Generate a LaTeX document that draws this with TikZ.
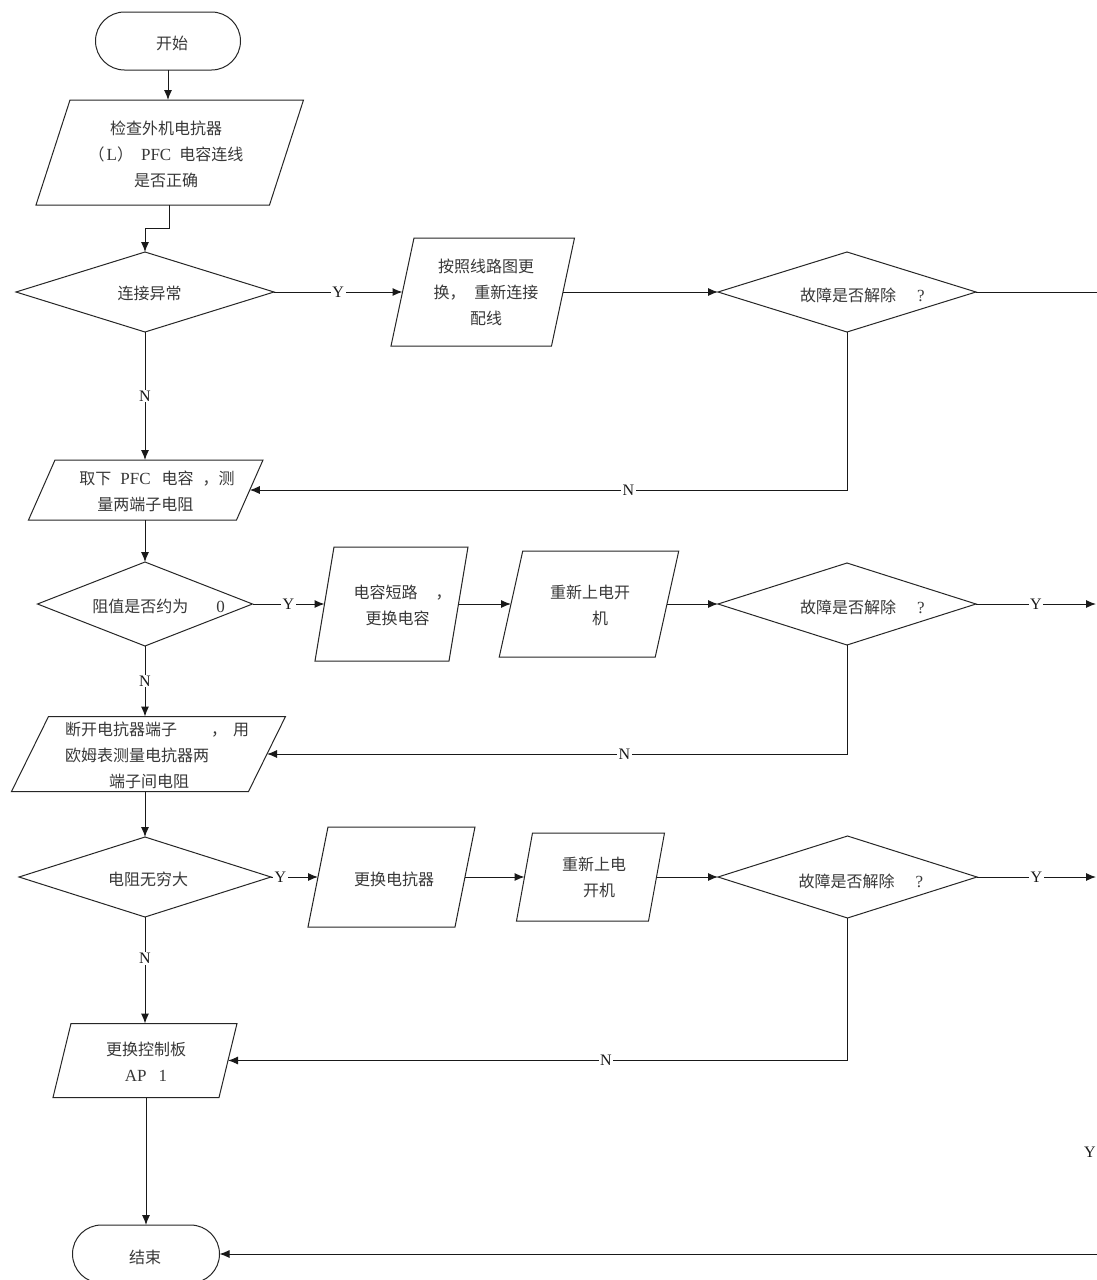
\documentclass[tikz,border=0pt]{standalone}
\usepackage{fontspec}
\setmainfont{Liberation Serif}
\newfontfamily\cjk{Noto Sans CJK SC}
\usetikzlibrary{arrows.meta,calc}
\newcommand\lat[1]{{\rmfamily\fontsize{17}{26}\selectfont #1}}
\newcommand\paradraw[2]{\draw[shapeline] ($(#1.north west)+(#2/2,0)$) -- ($(#1.north east)+(#2/2,0)$) -- ($(#1.south east)+(-#2/2,0)$) -- ($(#1.south west)+(-#2/2,0)$) -- cycle;}
\newcommand\diamdraw[1]{\draw[shapeline] (#1.north) -- (#1.east) -- (#1.south) -- (#1.west) -- cycle;}
\begin{document}
\begin{tikzpicture}[x=1pt,y=-1pt,
  every node/.style={inner sep=0pt, outer sep=0pt},
  box/.style={rectangle, draw=none},
  shapeline/.style={draw=black!85, line width=1pt, line join=miter},
  term/.style={rectangle, draw=black!85, line width=1pt, rounded corners=29pt, minimum height=58pt},
  txt/.style={font=\cjk\fontsize{16}{26}\selectfont, text=black!78, align=center},
  txtl/.style={font=\cjk\fontsize{16}{26}\selectfont, text=black!78, align=left},
  lab/.style={font=\fontsize{16}{16}\selectfont, fill=white, inner xsep=1.5pt, inner ysep=1pt, text=black!90},
  arr/.style={draw=black!90, line width=1pt, -{Latex[length=10pt,width=8pt]}},
  ln/.style={draw=black!90, line width=1pt}
]
\fill[white] (0,0) rectangle (1097,1280);
\useasboundingbox (0,0) rectangle (1097,1280);

% terminators
\node[term, minimum width=145pt] (start) at (168,41) {};
\node[term, minimum width=147pt] (end) at (146,1254) {};
\node[txt] (tstart) at (172,43) {开始};
\node[txt] (tend) at (145,1257) {结束};

% parallelogram geometry nodes
\node[box, minimum width=233.5pt, minimum height=105pt] (p1) at (169.75,152.5) {};
\node[box, minimum width=160.5pt, minimum height=108pt] (p2) at (482.75,292) {};
\node[box, minimum width=208pt, minimum height=60pt] (p3) at (145.75,490) {};
\node[box, minimum width=134pt, minimum height=114pt] (p4) at (391.5,604) {};
\node[box, minimum width=156pt, minimum height=106pt] (p5) at (589,604) {};
\node[box, minimum width=237pt, minimum height=75pt] (p6) at (148.5,754) {};
\node[box, minimum width=147pt, minimum height=100pt] (p7) at (391.5,877) {};
\node[box, minimum width=132pt, minimum height=88pt] (p8) at (590.5,877) {};
\node[box, minimum width=166pt, minimum height=74pt] (p9) at (145,1060.5) {};
\paradraw{p1}{34}
\paradraw{p2}{23}
\paradraw{p3}{26.5}
\paradraw{p4}{19}
\paradraw{p5}{23.5}
\paradraw{p6}{37}
\paradraw{p7}{20}
\paradraw{p8}{16}
\paradraw{p9}{18}

% diamond geometry nodes
\node[box, minimum width=258pt, minimum height=80pt] (d1) at (145,292) {};
\node[box, minimum width=258pt, minimum height=80pt] (d2) at (847,292) {};
\node[box, minimum width=215pt, minimum height=84pt] (d3) at (145,604) {};
\node[box, minimum width=258pt, minimum height=82pt] (d4) at (847,604) {};
\node[box, minimum width=252pt, minimum height=80pt] (d5) at (145,877) {};
\node[box, minimum width=259pt, minimum height=82pt] (d6) at (847.5,877) {};
\diamdraw{d1}
\diamdraw{d2}
\diamdraw{d3}
\diamdraw{d4}
\diamdraw{d5}
\diamdraw{d6}

% texts
\node[txt] (t1) at (166,154) {检查外机电抗器\\（\hspace{2pt}\lat{L}）\hspace{8pt}\lat{PFC}\hspace{8pt}电容连线\\是否正确};
\node[txt] (t2) at (486,292) {按照线路图更\\换，\hspace{9pt}重新连接\\配线};
\node[txtl] (t3) at (157,491.5) {取下\hspace{9pt}\lat{PFC}\hspace{11pt}电容\hspace{9pt}，测\\\hspace*{18pt}量两端子电阻};
\node[txtl] (t4) at (402.5,605) {电容短路\hspace{18pt}，\\\hspace*{12pt}更换电容};
\node[txt] (t5) at (590,605) {重新上电开\\\hspace*{20pt}机};
\node[txtl] (t6) at (157,755) {断开电抗器端子\hspace{34pt}，\hspace{6pt}用\\欧姆表测量电抗器两\\\hspace*{44pt}端子间电阻};
\node[txt] (t7) at (394,879) {更换电抗器};
\node[txt] (t8) at (594,877) {重新上电\\\hspace*{10pt}开机};
\node[txt] (t9) at (146,1061.5) {更换控制板\\\lat{AP}\hspace{12pt}\lat{1}};
\node[txt] (dt1) at (149.5,293) {连接异常};
\node[txt] (dt2) at (862.5,295) {故障是否解除\hspace{21pt}\lat{?}};
\node[txt] (dt3) at (158.5,606) {阻值是否约为\hspace{28pt}\lat{0}};
\node[txt] (dt4) at (862.5,607) {故障是否解除\hspace{21pt}\lat{?}};
\node[txt] (dt5) at (148,879) {电阻无穷大};
\node[txt] (dt6) at (861,881) {故障是否解除\hspace{21pt}\lat{?}};

% free ends at the right edge
\coordinate (r1) at (1100,292);
\coordinate (r2) at (1096,604);
\coordinate (r3) at (1096,877);
\coordinate (r4) at (1100,1254);
\node[lab, fill=none] (ycut) at (1090,1152) {Y};

% connectors
\draw[arr] (start.south) -- (start.south |- p1.north);
\draw[arr] (p1.south) -- ++(0,23) -| (d1.north);
\draw[arr] (d1.east) -- node[lab]{Y} (p2.west);
\draw[arr] (d1.south) -- node[lab]{N} (d1.south |- p3.north);
\draw[arr] (p2.east) -- (d2.west);
\draw[ln] (d2.east) -- (r1);
\draw[arr] (d2.south) |- node[lab, pos=0.683]{N} (p3.east);
\draw[arr] (d3.north |- p3.south) -- (d3.north);
\draw[arr] (d3.east) -- node[lab]{Y} (p4.west);
\draw[arr] (p4.east) -- (p5.west);
\draw[arr] (p5.east) -- (d4.west);
\draw[arr] (d4.east) -- node[lab]{Y} (r2);
\draw[arr] (d4.south) |- node[lab, pos=0.692]{N} (p6.east);
\draw[arr] (d3.south) -- node[lab]{N} (d3.south |- p6.north);
\draw[arr] (d5.north |- p6.south) -- (d5.north);
\draw[arr] (d5.east) -- node[lab, pos=0.2]{Y} (p7.west);
\draw[arr] (p7.east) -- (p8.west);
\draw[arr] (p8.east) -- (d6.west);
\draw[arr] (d6.east) -- node[lab]{Y} (r3);
\draw[arr] (d6.south) |- node[lab, pos=0.695]{N} (p9.east);
\draw[arr] (d5.south) -- node[lab, pos=0.39]{N} (d5.south |- p9.north);
\draw[arr] (end.north |- p9.south) -- (end.north);
\draw[arr] (r4) -- (end.east);
\end{tikzpicture}
\end{document}
